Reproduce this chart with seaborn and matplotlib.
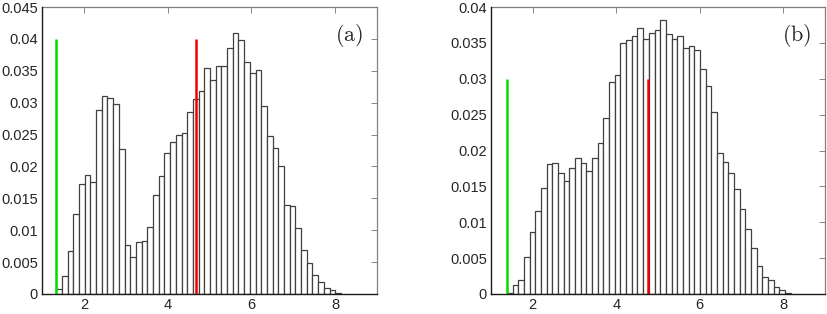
import numpy as np
import pandas as pd
import matplotlib
matplotlib.use("Agg")
import matplotlib.pyplot as plt
from matplotlib.ticker import FuncFormatter
import seaborn as sns

# ------------------------------------------------------------------
# Data (relative frequencies, 50 bins each)
# ------------------------------------------------------------------
bin_start_a = 1.34
bin_width_a = 0.136
freq_a = [0.0008, 0.0028, 0.0067, 0.0126, 0.0173, 0.0186, 0.0175, 0.0288, 0.0310, 0.0308,
          0.0298, 0.0228, 0.0077, 0.0058, 0.0081, 0.0083, 0.0105, 0.0156, 0.0185, 0.0221,
          0.0239, 0.0249, 0.0252, 0.0285, 0.0306, 0.0318, 0.0355, 0.0336, 0.0357, 0.0358,
          0.0385, 0.0410, 0.0399, 0.0364, 0.0346, 0.0352, 0.0294, 0.0248, 0.0229, 0.0200,
          0.0139, 0.0138, 0.0103, 0.0069, 0.0048, 0.0030, 0.0019, 0.0009, 0.0007, 0.0002]
green_a = 1.34
red_a = 4.68
line_h_a = 0.04

bin_start_b = 1.38
bin_width_b = 0.136
freq_b = [0.00014, 0.0012, 0.0019, 0.0051, 0.0087, 0.0115, 0.0148, 0.0181, 0.0183, 0.0169,
          0.0158, 0.0176, 0.0189, 0.0182, 0.0171, 0.0189, 0.0211, 0.0245, 0.0296, 0.0305,
          0.0350, 0.0354, 0.0360, 0.0371, 0.0355, 0.0364, 0.0368, 0.0382, 0.0363, 0.0356,
          0.0359, 0.0343, 0.0345, 0.0340, 0.0313, 0.0290, 0.0253, 0.0197, 0.0184, 0.0168,
          0.0146, 0.0119, 0.0090, 0.0064, 0.0039, 0.0024, 0.0019, 0.0010, 0.0006, 0.0001]
green_b = 1.38
red_b = 4.76
line_h_b = 0.03

x_ticks = [2, 4, 6, 8]
y_ticks_a = np.arange(0, 0.0451, 0.005)
y_ticks_b = np.arange(0, 0.0401, 0.005)
panel_labels = ["(a)", "(b)"]

sns.set_theme(style="white")
plt.rcParams.update({
    "font.family": ["Liberation Sans", "DejaVu Sans"],
    "mathtext.fontset": "cm",
    "xtick.direction": "in",
    "ytick.direction": "in",
})


def fmt_tick(v, pos):
    if abs(v) < 1e-12:
        return "0"
    return f"{v:.3f}".rstrip("0").rstrip(".")


def draw_panel(ax, start, width, freq, green, red, line_h, ymax, yticks, label):
    freq = np.asarray(freq, dtype=float)
    edges = start + width * np.arange(len(freq) + 1)
    df = pd.DataFrame({"value": edges[:-1] + width / 2, "freq": freq})
    sns.histplot(data=df, x="value", weights="freq", bins=list(edges), stat="count",
                 color="white", edgecolor="0.25", linewidth=0.9, alpha=1,
                 ax=ax, zorder=2)
    ax.vlines(green, 0, line_h, color="#00dd00", linewidth=1.8, zorder=3)
    ax.vlines(red, 0, line_h, color="#ee0000", linewidth=1.8, zorder=3)

    ax.set_xlim(1, 9)
    ax.set_ylim(0, ymax)
    ax.set_xticks(x_ticks)
    ax.set_yticks(yticks)
    ax.yaxis.set_major_formatter(FuncFormatter(fmt_tick))
    ax.tick_params(top=True, right=True, labelsize=10.5, length=4, width=0.6,
                   color="0.45", pad=3)
    ax.set_xlabel("")
    ax.set_ylabel("")
    for side in ["top", "right"]:
        ax.spines[side].set_color("0.5")
        ax.spines[side].set_linewidth(0.9)
    for side in ["left", "bottom"]:
        ax.spines[side].set_color("0.1")
        ax.spines[side].set_linewidth(1.0)
        ax.spines[side].set_zorder(4)
    ax.text(0.958, 0.902, r"$\mathrm{" + label + "}$", transform=ax.transAxes,
            ha="right", va="center", fontsize=16)


fig = plt.figure(figsize=(8.28, 3.14), dpi=100)
ax_a = fig.add_axes([0.0507, 0.0637, 0.4046, 0.914])
ax_b = fig.add_axes([0.5930, 0.0637, 0.4034, 0.914])

draw_panel(ax_a, bin_start_a, bin_width_a, freq_a, green_a, red_a, line_h_a,
           0.045, y_ticks_a, panel_labels[0])
draw_panel(ax_b, bin_start_b, bin_width_b, freq_b, green_b, red_b, line_h_b,
           0.04, y_ticks_b, panel_labels[1])

fig.savefig("out.png", dpi=100)
